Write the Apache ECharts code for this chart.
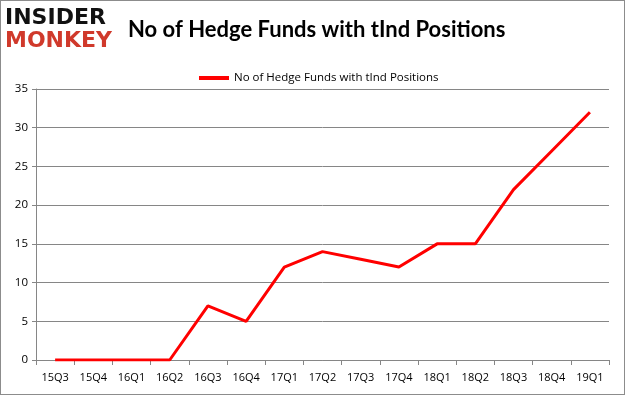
<!DOCTYPE html>
<html><head><meta charset="utf-8">
<script src="https://cdn.jsdelivr.net/npm/echarts@6/dist/echarts.min.js"></script>
<style>
html,body{margin:0;padding:0;background:#fff;}
#c{position:absolute;left:0;top:0;width:623px;height:393px;border:1px solid #8c8c8c;}
</style></head>
<body><div id="c"></div>
<script>
var categories = ['15Q3','15Q4','16Q1','16Q2','16Q3','16Q4','17Q1','17Q2','17Q3','17Q4','18Q1','18Q2','18Q3','18Q4','19Q1'];
var hedgeFunds = [0,0,0,0,7,5,12,14,13,12,15,15,22,27,32];
var yTicks = {min:0, max:35, interval:5};
var seriesName = 'No of Hedge Funds with tInd Positions';

var chart = echarts.init(document.getElementById('c'), null, {renderer:'canvas'});
chart.setOption({
  animation:false,
  backgroundColor:'#fff',
  title:{text:seriesName, left:122, top:13,
    textStyle:{fontFamily:'Lato', fontWeight:'bold', fontSize:22, color:'#000'}},
  legend:{top:66, left:193, itemWidth:30, itemHeight:4, itemGap:4,
    icon:'rect',
    textStyle:{fontFamily:'Open Sans', fontSize:11.5, color:'#000'},
    data:[seriesName]},
  graphic:[
    {type:'text', left:4, top:6, style:{text:'INSIDER', fill:'#111', font:'bold 22px "DejaVu Sans"'}},
    {type:'text', left:4, top:29, style:{text:'MONKEY', fill:'#d0392b', font:'bold 22px "DejaVu Sans"'}}
  ],
  grid:{left:35, right:15, top:88, bottom:34},
  xAxis:{type:'category', data:categories, boundaryGap:true,
    axisLine:{lineStyle:{color:'#868686'}},
    axisTick:{show:true, alignWithLabel:false, length:5, lineStyle:{color:'#868686'}},
    axisLabel:{color:'#000', fontFamily:'Open Sans', fontSize:11, margin:12}},
  yAxis:{type:'value', min:yTicks.min, max:yTicks.max, interval:yTicks.interval,
    axisLine:{show:true, lineStyle:{color:'#868686'}},
    axisTick:{show:true, length:4, lineStyle:{color:'#868686'}},
    splitLine:{lineStyle:{color:'#868686'}},
    axisLabel:{color:'#000', fontFamily:'Open Sans', fontSize:11.5, margin:8}},
  series:[{name:seriesName, type:'line', data:hedgeFunds, showSymbol:false, symbol:'none',
    lineStyle:{color:'#ff0000', width:3}, itemStyle:{color:'#ff0000'}}]
});
</script></body></html>
